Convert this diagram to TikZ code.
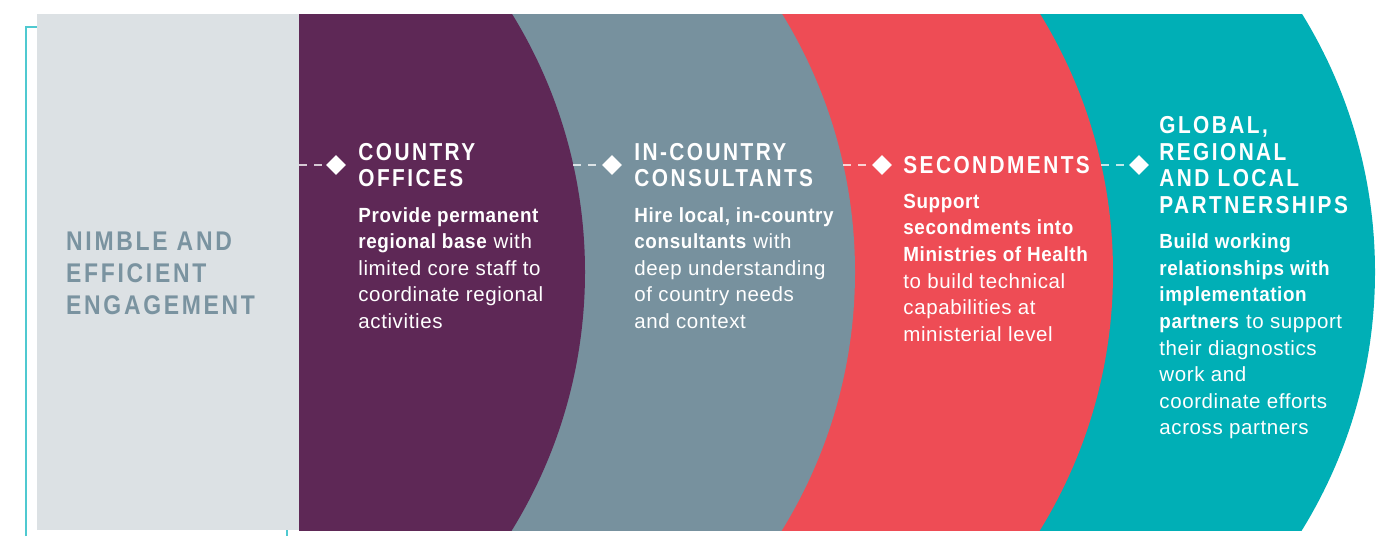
\documentclass[tikz,border=0pt]{standalone}
\usepackage{fontspec}
\setmainfont{Liberation Sans}
\newfontfamily\headfont{Liberation Sans}[FakeStretch=0.85,LetterSpace=10]
\newfontfamily\bodyfont{Liberation Sans}[LetterSpace=3,BoldFeatures={FakeStretch=0.92}]
\usetikzlibrary{positioning,shapes.geometric}
\definecolor{paleback}{HTML}{DCE1E4}
\definecolor{plum}{HTML}{5E2856}
\definecolor{slate}{HTML}{77919E}
\definecolor{coral}{HTML}{EE4C55}
\definecolor{lagoon}{HTML}{00AFB6}
\definecolor{framecol}{HTML}{4FC9D0}
\definecolor{titlecol}{HTML}{7A93A0}
\begin{document}
\begin{tikzpicture}[x=1pt,y=-1pt,
  head/.style={font=\headfont\bfseries\fontsize{24.5}{26.5}\selectfont,text=white,align=left,inner sep=0pt},
  body/.style={font=\bodyfont\fontsize{20.5}{26.6}\selectfont,text=white,align=left,inner sep=0pt},
  gem/.style={diamond,fill=white,inner sep=0pt,minimum width=20pt,minimum height=20pt},
  link/.style={draw=white,draw opacity=0.75,line width=1.3pt,dash pattern=on 8pt off 7pt},
  framed/.style={draw=framecol,line width=2.2pt}]
\useasboundingbox (0,0) rectangle (1382,536);
\draw[framed](26,536)--(26,27)--(37,27);
\draw[framed](287,530)--(287,536);
\begin{scope}
\clip (299,14) rectangle (1382,530);
\fill[lagoon](882.6,272) circle (492.4);
\fill[coral](620.6,272) circle (492.4);
\fill[slate](362.6,272) circle (492.4);
\fill[plum](92.6,272) circle (492.4);
\end{scope}
\fill[paleback](37,14) rectangle (299,530);

\node[font=\headfont\bfseries\fontsize{27}{32}\selectfont,text=titlecol,align=left,inner sep=0pt,anchor=west] (nimble) at (66,273) {NIMBLE AND\\EFFICIENT\\ENGAGEMENT};

\coordinate (c1) at (299,165);
\coordinate (c2) at (573.2,165);
\coordinate (c3) at (843.2,165);
\coordinate (c4) at (1101.2,165);
\node[gem] (d1) at (336,165) {};
\node[gem] (d2) at (612,165) {};
\node[gem] (d3) at (882,165) {};
\node[gem] (d4) at (1139,165) {};
\draw[link](c1)--(d1);
\draw[link](c2)--(d2);
\draw[link](c3)--(d3);
\draw[link](c4)--(d4);

\node[head,right=12pt of d1] (officehead) {COUNTRY\\OFFICES};
\node[head,right=12pt of d2] (consulthead) {IN-COUNTRY\\CONSULTANTS};
\node[head,right=11pt of d3] (secondhead) {SECONDMENTS};
\node[head,right=10pt of d4] (partnerhead) {GLOBAL,\\REGIONAL\\AND LOCAL\\PARTNERSHIPS};

\node[body,below=20pt of officehead.south west,anchor=north west] (officebody) {\textbf{Provide permanent}\\\textbf{regional base} with\\limited core staff to\\coordinate regional\\activities};
\node[body,below=20pt of consulthead.south west,anchor=north west] (consultbody) {\textbf{Hire local, in-country}\\\textbf{consultants} with\\deep understanding\\of country needs\\and context};
\node[body,below=20pt of secondhead.south west,anchor=north west] (secondbody) {\textbf{Support}\\\textbf{secondments into}\\\textbf{Ministries of Health}\\to build technical\\capabilities at\\ministerial level};
\node[body,below=20pt of partnerhead.south west,anchor=north west] (partnerbody) {\textbf{Build working}\\\textbf{relationships with}\\\textbf{implementation}\\\textbf{partners} to support\\their diagnostics\\work and\\coordinate efforts\\across partners};
\end{tikzpicture}
\end{document}
